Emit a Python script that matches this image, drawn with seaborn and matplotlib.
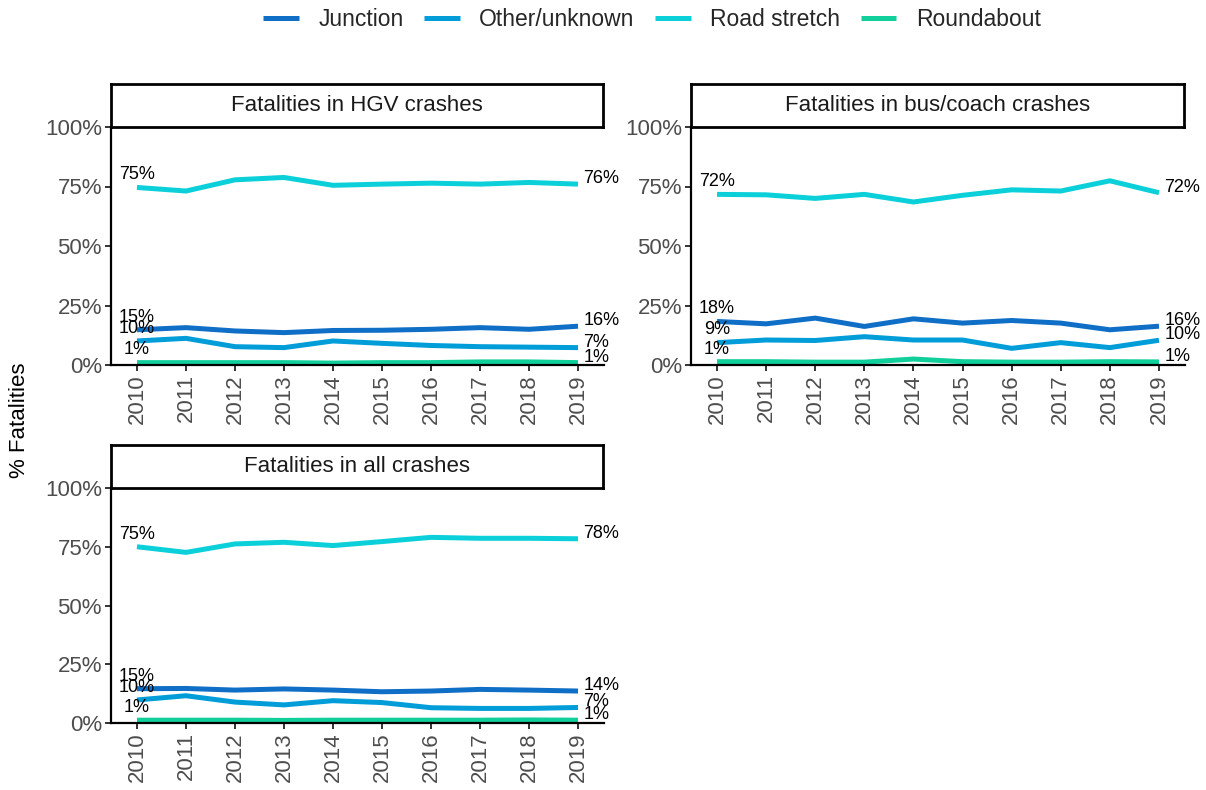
import numpy as np
import pandas as pd
import matplotlib.pyplot as plt
import seaborn as sns

# -------------------- data --------------------
years = list(range(2010, 2020))
locations = ["Junction", "Other/unknown", "Road stretch", "Roundabout"]
colors = ["#0F6FC6", "#009DD9", "#0BD0D9", "#10CF9B"]

hgv_junction = [14.8, 15.7, 14.3, 13.6, 14.5, 14.6, 15.0, 15.7, 15.0, 16.3]
hgv_other = [10.1, 11.2, 7.7, 7.3, 10.1, 9.1, 8.2, 7.7, 7.5, 7.3]
hgv_road = [74.6, 73.1, 77.8, 78.8, 75.5, 76.0, 76.4, 76.0, 76.7, 76.0]
hgv_roundabout = [1.0, 1.0, 1.0, 1.0, 0.8, 1.0, 1.0, 1.3, 1.3, 1.0]

bus_junction = [18.3, 17.3, 19.7, 16.2, 19.4, 17.6, 18.7, 17.6, 14.8, 16.3]
bus_other = [9.4, 10.5, 10.3, 11.9, 10.5, 10.5, 7.0, 9.4, 7.3, 10.4]
bus_road = [71.7, 71.5, 70.0, 71.7, 68.5, 71.3, 73.6, 73.1, 77.4, 72.4]
bus_roundabout = [1.4, 1.4, 1.2, 1.2, 2.5, 1.4, 1.2, 1.2, 1.4, 1.3]

all_junction = [14.6, 14.7, 14.0, 14.5, 14.0, 13.3, 13.6, 14.3, 14.0, 13.6]
all_other = [9.8, 11.6, 8.9, 7.7, 9.5, 8.7, 6.5, 6.2, 6.2, 6.6]
all_road = [75.0, 72.6, 76.2, 76.9, 75.5, 77.2, 79.0, 78.6, 78.6, 78.4]
all_roundabout = [1.2, 1.2, 1.2, 1.1, 1.2, 1.2, 1.2, 1.2, 1.3, 1.2]

panel_titles = [
    "Fatalities in HGV crashes",
    "Fatalities in bus/coach crashes",
    "Fatalities in all crashes",
]
panel_series = [
    [hgv_junction, hgv_other, hgv_road, hgv_roundabout],
    [bus_junction, bus_other, bus_road, bus_roundabout],
    [all_junction, all_other, all_road, all_roundabout],
]

rows = []
for title, series in zip(panel_titles, panel_series):
    for loc, vals in zip(locations, series):
        for yr, v in zip(years, vals):
            rows.append({"panel": title, "Location": loc, "Year": yr, "share": v / 100})
df = pd.DataFrame(rows)

# -------------------- style --------------------
sns.set_style("white")
plt.rcParams["font.family"] = ["Liberation Sans", "DejaVu Sans"]
palette = dict(zip(locations, colors))

W, H = 1206, 790
fig = plt.figure(figsize=(W / 100, H / 100), dpi=100)


def px_axes(x0, x1, y_top, y_bot):
    return [x0 / W, 1 - y_bot / H, (x1 - x0) / W, (y_bot - y_top) / H]


# (x_left, x_right, strip_top, panel_top, panel_bottom) in pixels
layout = [
    (111, 604, 84, 127, 365),
    (691, 1185, 84, 127, 365),
    (111, 604, 445, 488, 723),
]

handles, labels = None, None
for i, (title, (x0, x1, st, pt, pb)) in enumerate(zip(panel_titles, layout)):
    ax = fig.add_axes(px_axes(x0, x1, pt, pb))
    sub = df[df["panel"] == title]
    sns.lineplot(
        data=sub, x="Year", y="share", hue="Location", hue_order=locations,
        palette=palette, linewidth=3.6, ax=ax, legend=(i == 0),
        solid_capstyle="butt",
    )
    if i == 0:
        handles, labels = ax.get_legend_handles_labels()
        ax.get_legend().remove()

    # start / end value labels
    for loc in locations:
        s = sub[sub["Location"] == loc].sort_values("Year")
        first, last = s.iloc[0], s.iloc[-1]
        ax.annotate(f"{first['share'] * 100:.0f}%", (first["Year"], first["share"]),
                    xytext=(0, 3), textcoords="offset points", ha="center",
                    va="bottom", fontsize=13, color="black", annotation_clip=False)
        ax.annotate(f"{last['share'] * 100:.0f}%", (last["Year"], last["share"]),
                    xytext=(4, 4), textcoords="offset points", ha="left",
                    va="center", fontsize=13, color="black", annotation_clip=False)

    ax.set_xlim(2010 - 0.53, 2019 + 0.53)
    ax.set_ylim(0, 1)
    ax.set_xticks(years)
    ax.set_xticklabels([str(y) for y in years], rotation=90)
    ax.set_yticks([0, 0.25, 0.5, 0.75, 1.0])
    ax.set_yticklabels(["0%", "25%", "50%", "75%", "100%"])
    ax.set_xlabel("")
    ax.set_ylabel("")
    for side in ["top", "right"]:
        ax.spines[side].set_visible(False)
    for side in ["left", "bottom"]:
        ax.spines[side].set_color("black")
        ax.spines[side].set_linewidth(1.6)
    ax.tick_params(axis="both", length=4.5, width=1.4, color="#333333",
                   labelsize=16, labelcolor="#4D4D4D", pad=2, left=True, bottom=True)
    ax.grid(False)

    # facet strip
    sax = fig.add_axes(px_axes(x0, x1 - 1, st, pt))
    sax.set_xticks([])
    sax.set_yticks([])
    sax.set_facecolor("white")
    for sp in sax.spines.values():
        sp.set_visible(True)
        sp.set_color("black")
        sp.set_linewidth(2.0)
    sax.text(0.5, 0.5, title, ha="center", va="center", fontsize=16,
             color="#1A1A1A", transform=sax.transAxes)

fig.legend(handles, labels, loc="center", bbox_to_anchor=(652 / W, 1 - 20 / H),
           ncol=4, frameon=False, fontsize=16.5, handlelength=1.55,
           columnspacing=0.9, handletextpad=0.85)
for lh in fig.legends[0].get_lines():
    lh.set_linewidth(3.6)

fig.text(20 / W, 1 - 420 / H, "% Fatalities", rotation=90, ha="center",
         va="center", fontsize=16, color="black")

fig.savefig("out.png", dpi=100)
